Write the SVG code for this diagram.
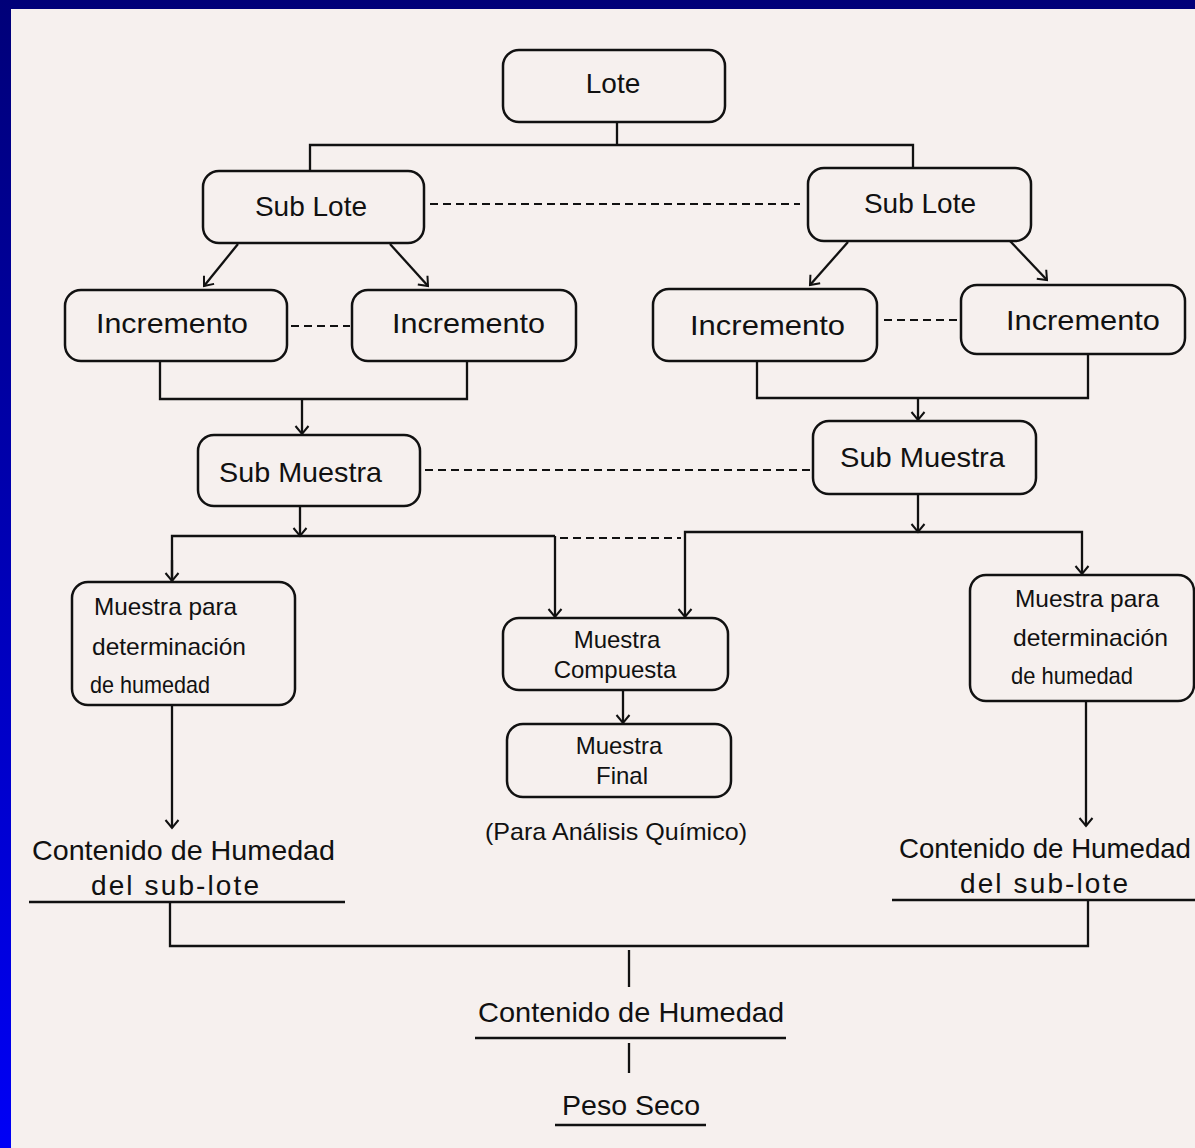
<svg xmlns="http://www.w3.org/2000/svg" width="1195" height="1148" viewBox="0 0 1195 1148">
  <defs>
    <linearGradient id="frame" x1="0" y1="0" x2="0" y2="1">
      <stop offset="0" stop-color="#000078"/>
      <stop offset="1" stop-color="#0000f6"/>
    </linearGradient>
    <marker id="arr" markerUnits="userSpaceOnUse" markerWidth="20" markerHeight="20" refX="10" refY="10" orient="auto" overflow="visible">
      <path d="M2,3.5 L10,10 L2,16.5" fill="none" stroke="#111" stroke-width="2"/>
    </marker>
    <style>
      .box { fill: none; stroke: #111; stroke-width: 2.5; }
      .ln { fill: none; stroke: #111; stroke-width: 2.3; }
      .dash { fill: none; stroke: #111; stroke-width: 2; stroke-dasharray: 8 5; }
      .t { font-family: "Liberation Sans", Arial, sans-serif; fill: #111; font-size: 28px; }
      .s { font-family: "Liberation Sans", Arial, sans-serif; fill: #111; font-size: 24px; }
      .m { text-anchor: middle; }
    </style>
  </defs>

  <!-- frame and paper -->
  <rect x="0" y="0" width="1195" height="1148" fill="url(#frame)"/>
  <rect x="11" y="9" width="1184" height="1139" fill="#f6f0ee"/>

  <!-- connectors -->
  <g id="connectors">
    <path class="ln" d="M617,122 V145 M310,171 V145 H913 V168"/>
    <path class="dash" d="M430,204 H800"/>
    <path class="ln" marker-end="url(#arr)" d="M238,244 L204,286"/>
    <path class="ln" marker-end="url(#arr)" d="M390,244 L428,286"/>
    <path class="ln" marker-end="url(#arr)" d="M848,242 L810,285"/>
    <path class="ln" marker-end="url(#arr)" d="M1010,241 L1047,280"/>
    <path class="dash" d="M291,326 H350"/>
    <path class="dash" d="M884,320 H958"/>
    <path class="ln" d="M160,361 V399 H467 V361"/>
    <path class="ln" marker-end="url(#arr)" d="M302,399 V434"/>
    <path class="ln" d="M757,361 V398 H1088 V354"/>
    <path class="ln" marker-end="url(#arr)" d="M918,398 V420"/>
    <path class="dash" d="M425,470 H812"/>
    <path class="ln" marker-end="url(#arr)" d="M300,506 V536"/>
    <path class="ln" d="M172,581 V536 H555"/>
    <path class="ln" marker-end="url(#arr)" d="M172,560 V581"/>
    <path class="ln" marker-end="url(#arr)" d="M555,536 V617"/>
    <path class="dash" d="M560,538 H681"/>
    <path class="ln" marker-end="url(#arr)" d="M918,494 V532"/>
    <path class="ln" d="M685,560 V532 H1082 V560"/>
    <path class="ln" marker-end="url(#arr)" d="M685,560 V617"/>
    <path class="ln" marker-end="url(#arr)" d="M1082,560 V574"/>
    <path class="ln" marker-end="url(#arr)" d="M172,705 V828"/>
    <path class="ln" marker-end="url(#arr)" d="M1086,701 V826"/>
    <path class="ln" marker-end="url(#arr)" d="M623,690 V723"/>
    <path class="ln" d="M29,902 H345 M892,900 H1195"/>
    <path class="ln" d="M170,902 V946 H1088 V900"/>
    <path class="ln" d="M629,950 V987"/>
    <path class="ln" d="M475,1038 H786"/>
    <path class="ln" d="M629,1043 V1073"/>
    <path class="ln" d="M555,1125 H706"/>
  </g>

  <g id="lote">
    <rect class="box" x="503" y="50" width="222" height="72" rx="16"/>
    <text class="t m" x="613" y="93">Lote</text>
  </g>
  <g id="sublote-a">
    <rect class="box" x="203" y="171" width="221" height="72" rx="16"/>
    <text class="t m" x="311" y="216">Sub Lote</text>
  </g>
  <g id="sublote-b">
    <rect class="box" x="808" y="168" width="223" height="73" rx="16"/>
    <text class="t m" x="920" y="213">Sub Lote</text>
  </g>

  <g id="incremento-a1">
    <rect class="box" x="65" y="290" width="222" height="71" rx="16"/>
    <text class="t" x="96" y="333" textLength="152" lengthAdjust="spacingAndGlyphs">Incremento</text>
  </g>
  <g id="incremento-a2">
    <rect class="box" x="352" y="290" width="224" height="71" rx="16"/>
    <text class="t" x="392" y="333" textLength="153" lengthAdjust="spacingAndGlyphs">Incremento</text>
  </g>
  <g id="incremento-b1">
    <rect class="box" x="653" y="289" width="224" height="72" rx="16"/>
    <text class="t" x="690" y="335" textLength="155" lengthAdjust="spacingAndGlyphs">Incremento</text>
  </g>
  <g id="incremento-b2">
    <rect class="box" x="961" y="285" width="224" height="69" rx="16"/>
    <text class="t" x="1006" y="330" textLength="154" lengthAdjust="spacingAndGlyphs">Incremento</text>
  </g>

  <g id="submuestra-a">
    <rect class="box" x="198" y="435" width="222" height="71" rx="16"/>
    <text class="t" x="219" y="482" textLength="163" lengthAdjust="spacingAndGlyphs">Sub Muestra</text>
  </g>
  <g id="submuestra-b">
    <rect class="box" x="813" y="421" width="223" height="73" rx="16"/>
    <text class="t" x="840" y="467" textLength="165" lengthAdjust="spacingAndGlyphs">Sub Muestra</text>
  </g>

  <g id="humedad-a">
    <rect class="box" x="72" y="582" width="223" height="123" rx="16"/>
    <text class="s" x="94" y="615" textLength="143" lengthAdjust="spacingAndGlyphs">Muestra para</text>
    <text class="s" x="92" y="655" textLength="154" lengthAdjust="spacingAndGlyphs">determinación</text>
    <text class="s" x="90" y="693" textLength="120" lengthAdjust="spacingAndGlyphs">de humedad</text>
  </g>
  <g id="humedad-b">
    <rect class="box" x="970" y="575" width="224" height="126" rx="16"/>
    <text class="s" x="1015" y="607" textLength="144" lengthAdjust="spacingAndGlyphs">Muestra para</text>
    <text class="s" x="1013" y="646" textLength="155" lengthAdjust="spacingAndGlyphs">determinación</text>
    <text class="s" x="1011" y="684" textLength="122" lengthAdjust="spacingAndGlyphs">de humedad</text>
  </g>

  <g id="compuesta">
    <rect class="box" x="503" y="618" width="225" height="72" rx="16"/>
    <text class="s m" x="617" y="648">Muestra</text>
    <text class="s m" x="615" y="678">Compuesta</text>
  </g>
  <g id="final">
    <rect class="box" x="507" y="724" width="224" height="73" rx="16"/>
    <text class="s m" x="619" y="754">Muestra</text>
    <text class="s m" x="622" y="784">Final</text>
  </g>
  <text class="s" x="485" y="840" textLength="262" lengthAdjust="spacingAndGlyphs">(Para Análisis Químico)</text>

  <g id="contenido-a">
    <text class="t" x="32" y="860" textLength="303" lengthAdjust="spacingAndGlyphs">Contenido de Humedad</text>
    <text class="t" x="91" y="895" textLength="168">del sub-lote</text>
  </g>
  <g id="contenido-b">
    <text class="t" x="899" y="858" textLength="292" lengthAdjust="spacingAndGlyphs">Contenido de Humedad</text>
    <text class="t" x="960" y="893" textLength="168">del sub-lote</text>
  </g>
  <g id="contenido-total">
    <text class="t" x="478" y="1022" textLength="306" lengthAdjust="spacingAndGlyphs">Contenido de Humedad</text>
  </g>
  <g id="peso-seco">
    <text class="t" x="562" y="1115" textLength="138" lengthAdjust="spacingAndGlyphs">Peso Seco</text>
  </g>
</svg>
